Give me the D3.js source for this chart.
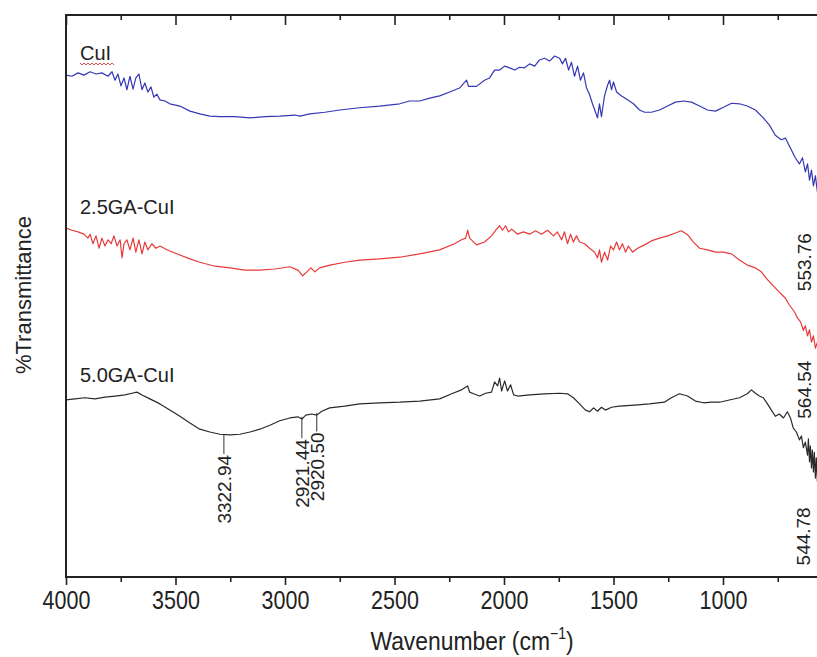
<!DOCTYPE html>
<html>
<head>
<meta charset="utf-8">
<script src="https://cdn.jsdelivr.net/npm/d3@7"></script>
<style>
  html, body { margin: 0; padding: 0; background: #fff; }
  svg { display: block; }
</style>
</head>
<body>
<svg id="chart" width="817" height="657"></svg>
<script>
// ---------------- DATA ----------------
const seriesNames = ["CuI", "2.5GA-CuI", "5.0GA-CuI"];
const xTickValues = [4000, 3500, 3000, 2500, 2000, 1500, 1000];
const xMinorTickValues = [3750, 3250, 2750, 2250, 1750, 1250, 750];

// [wavenumber (cm^-1), %Transmittance (a.u., offset)]
const cuiData = [
[4000,89.3],[3973,89.1],[3945,89.7],[3918,89.3],[3890,89.9],[3863,89.5],[3836,89.7],[3808,89.1],
[3790,89.9],[3776,88.4],[3763,89.5],[3749,87.4],[3735,88.8],[3722,86.7],[3708,89.1],[3694,86.8],
[3681,88.8],[3667,89.5],[3653,86.7],[3640,87.9],[3626,86.3],[3612,87.2],[3599,85.4],[3585,85.9],
[3571,84.9],[3548,84.7],[3526,84.2],[3480,83.8],[3434,82.9],[3389,82.4],[3343,82.0],[3297,81.9],
[3229,81.9],[3160,81.7],[3092,81.9],[3024,82.0],[2955,82.2],[2932,82.0],[2887,82.4],[2818,82.7],
[2750,83.1],[2659,83.5],[2568,83.8],[2476,84.2],[2431,84.7],[2385,84.7],[2339,85.2],[2294,85.6],
[2248,86.3],[2203,87.0],[2171,88.4],[2162,87.3],[2125,87.3],[2089,88.4],[2066,88.8],[2043,90.2],
[2020,90.2],[1997,90.9],[1974,90.6],[1951,90.2],[1929,90.7],[1906,90.6],[1883,91.3],[1860,90.9],
[1838,92.0],[1815,92.3],[1792,91.8],[1769,92.7],[1746,92.3],[1733,91.3],[1719,92.3],[1705,90.2],
[1692,91.6],[1678,89.1],[1664,90.9],[1651,88.4],[1637,89.7],[1623,87.0],[1609,85.8],[1596,84.2],
[1582,82.7],[1573,81.7],[1564,84.2],[1555,81.9],[1541,85.6],[1527,87.5],[1518,88.4],[1509,86.7],
[1500,88.1],[1486,86.3],[1463,85.6],[1436,84.9],[1409,84.2],[1381,83.1],[1358,82.7],[1327,82.7],
[1290,83.1],[1253,83.8],[1217,84.5],[1180,84.7],[1144,84.5],[1107,83.8],[1071,83.1],[1034,82.9],
[998,83.6],[961,84.3],[925,84.2],[889,83.8],[852,83.1],[816,81.7],[788,80.4],[761,78.6],
[734,77.8],[715,78.1],[697,76.7],[670,74.6],[651,73.5],[637,74.6],[624,72.1],[614,73.5],
[605,70.6],[596,72.4],[587,69.6],[578,71.4],[569,68.5]
];

const ga25Data = [
[4000,62.1],[3973,61.7],[3945,61.4],[3918,61.0],[3900,60.3],[3890,61.0],[3877,59.3],[3863,60.7],
[3849,58.5],[3836,60.3],[3822,58.9],[3808,60.0],[3794,59.3],[3781,60.7],[3767,58.9],[3753,60.0],
[3744,56.8],[3735,59.3],[3722,60.0],[3708,58.2],[3694,60.3],[3681,57.8],[3667,60.0],[3653,57.5],
[3640,59.6],[3626,58.2],[3608,59.3],[3589,58.5],[3571,58.9],[3548,58.4],[3526,58.0],[3480,57.3],
[3434,56.6],[3389,56.0],[3320,55.3],[3252,55.0],[3183,54.6],[3115,54.6],[3046,54.8],[2978,55.2],
[2941,54.6],[2919,53.6],[2900,54.3],[2882,55.0],[2864,54.3],[2841,55.0],[2795,55.5],[2727,56.0],
[2659,56.4],[2568,56.6],[2476,56.9],[2385,57.5],[2294,58.2],[2226,59.3],[2194,60.0],[2175,60.3],
[2166,61.7],[2157,60.3],[2125,59.1],[2089,59.6],[2057,60.7],[2034,61.9],[2020,62.5],[2007,61.7],
[1993,62.5],[1979,61.4],[1965,61.9],[1938,61.0],[1911,61.4],[1883,61.0],[1856,61.6],[1829,61.0],
[1801,61.7],[1774,60.7],[1756,61.4],[1737,60.0],[1724,61.4],[1710,59.3],[1696,61.0],[1683,59.6],
[1669,60.7],[1655,59.6],[1632,59.3],[1609,58.5],[1586,57.8],[1573,56.8],[1564,58.2],[1555,56.0],
[1541,57.8],[1527,56.4],[1513,58.9],[1500,58.2],[1486,59.6],[1473,58.2],[1459,59.3],[1445,57.8],
[1432,58.9],[1413,57.8],[1390,58.5],[1358,59.1],[1327,59.8],[1290,60.3],[1253,60.7],[1217,61.2],
[1190,61.6],[1162,60.9],[1135,59.6],[1107,58.5],[1071,58.2],[1034,57.8],[998,57.8],[961,57.5],
[925,56.4],[889,55.5],[852,55.0],[825,54.3],[797,52.9],[770,51.8],[743,50.7],[715,49.6],
[697,48.4],[674,47.2],[660,46.1],[646,45.4],[633,43.9],[624,44.7],[614,42.9],[605,44.0],
[596,41.8],[587,42.9],[578,40.7],[569,41.8]
];

const ga50Data = [
[4000,31.5],[3959,31.7],[3913,31.9],[3868,31.7],[3822,32.0],[3776,32.2],[3731,32.4],[3699,32.7],
[3676,32.9],[3653,32.4],[3617,31.7],[3571,30.8],[3526,29.7],[3480,28.6],[3434,27.4],[3389,26.3],
[3343,25.8],[3297,25.4],[3252,25.3],[3206,25.4],[3160,25.8],[3115,26.3],[3069,27.0],[3024,27.8],
[2978,28.3],[2941,28.5],[2923,28.1],[2905,28.8],[2878,29.0],[2855,28.8],[2832,29.5],[2796,30.1],
[2727,30.4],[2659,30.8],[2568,31.0],[2476,31.1],[2385,31.3],[2294,31.7],[2239,32.6],[2194,33.3],
[2166,34.0],[2157,32.9],[2139,32.6],[2111,32.2],[2084,32.7],[2057,32.9],[2043,34.7],[2029,34.0],
[2020,35.4],[2011,33.1],[1997,34.9],[1984,33.1],[1970,34.2],[1956,32.4],[1938,32.2],[1883,32.4],
[1815,32.6],[1746,32.7],[1710,32.6],[1683,31.9],[1655,30.8],[1628,29.7],[1609,29.4],[1591,30.1],
[1573,29.5],[1555,30.2],[1537,29.7],[1509,30.2],[1473,30.4],[1404,30.6],[1336,30.8],[1268,31.1],
[1236,31.9],[1199,32.6],[1162,32.2],[1126,31.3],[1089,31.0],[1053,31.1],[1016,31.1],[971,31.5],
[925,31.9],[889,32.6],[870,33.3],[852,32.7],[834,32.2],[816,31.9],[797,30.8],[779,29.7],
[761,28.6],[743,29.0],[724,28.3],[706,29.4],[692,28.3],[679,26.5],[665,25.8],[651,24.4],
[642,25.1],[633,23.0],[624,24.0],[614,21.7],[610,24.6],[605,20.5],[601,23.3],[596,19.4],
[592,22.6],[587,18.7],[583,22.2],[578,17.6],[574,21.2],[569,16.9]
];

// peak annotations: label, marker wavenumber, marker line from/to (a.u.)
const peakLabels = ["3322.94", "2921.44", "2920.50"];
const peakPos = [3279, 2923, 2855];
const peakLineTop = [25.3, 28.5, 29.2];
const peakLineBottom = [21.9, 24.7, 25.9];
// edge labels (no marker line)
const edgeLabels = ["553.76", "564.54", "544.78"];
const edgePos = [630, 630, 633];
const edgeTop = [61.2, 38.5, 12.4];

// ---------------- LAYOUT ----------------
const W = 817, H = 657;
const mLeft = 66, mTop = 15, mBottom = 577, mRight = 817;
const svg = d3.select("#chart");

const x = d3.scaleLinear().domain([4000, 1000]).range([mLeft, 723]);
const y = d3.scaleLinear().domain([0, 100]).range([mBottom, mTop]);

const colors = ["#3438b4", "#e8393a", "#2a2a2a"];
const datasets = [cuiData, ga25Data, ga50Data];

svg.append("defs").append("clipPath").attr("id", "plotclip")
  .append("rect").attr("x", mLeft).attr("y", mTop).attr("width", mRight - mLeft + 10).attr("height", mBottom - mTop);

const line = d3.line().x(d => x(d[0])).y(d => y(d[1]));
const g = svg.append("g").attr("clip-path", "url(#plotclip)");
datasets.forEach((data, i) => {
  g.append("path").datum(data)
    .attr("fill", "none")
    .attr("stroke", colors[i])
    .attr("stroke-width", 1.2)
    .attr("stroke-linejoin", "round")
    .attr("d", line);
});

// series labels (baseline positions in data units)
const labelY = [92.0, 64.6, 34.7];
const labelsG = svg.append("g").attr("font-family", "Liberation Sans, Arial, sans-serif").attr("font-size", 20).attr("fill", "#222");
seriesNames.forEach((n, i) => {
  labelsG.append("text").attr("x", 80).attr("y", y(labelY[i])).text(n);
});
// spell-check squiggle under "CuI"
{
  const sx0 = 80, sx1 = 114, sy = y(labelY[0]) + 3;
  let p = "M" + sx0 + "," + sy;
  for (let xx = sx0, k = 0; xx < sx1; xx += 2, k++) p += " L" + (xx + 2) + "," + (sy + (k % 2 ? 0 : 2));
  svg.append("path").attr("d", p).attr("fill", "none").attr("stroke", "#e03030").attr("stroke-width", 0.9);
}

// peak annotation markers & labels
const annG = svg.append("g").attr("font-family", "Liberation Sans, Arial, sans-serif").attr("font-size", 19).attr("fill", "#222");
peakLabels.forEach((lab, i) => {
  const px = x(peakPos[i]);
  annG.append("line").attr("x1", px).attr("x2", px)
    .attr("y1", y(peakLineTop[i])).attr("y2", y(peakLineBottom[i]))
    .attr("stroke", "#333").attr("stroke-width", 1);
  annG.append("text")
    .attr("transform", `translate(${px},${y(peakLineBottom[i]) + 1}) rotate(-90)`)
    .attr("text-anchor", "end").attr("dy", "0.36em").text(lab);
});
edgeLabels.forEach((lab, i) => {
  const px = x(edgePos[i]);
  annG.append("text")
    .attr("transform", `translate(${px},${y(edgeTop[i])}) rotate(-90)`)
    .attr("text-anchor", "end").attr("dy", "0.36em").text(lab);
});

// axes frame
const axisColor = "#222";
svg.append("line").attr("x1", mLeft).attr("x2", mLeft).attr("y1", mTop - 1).attr("y2", mBottom + 1)
  .attr("stroke", axisColor).attr("stroke-width", 2);

// bottom axis
const xAxis = d3.axisBottom(x).tickValues(xTickValues).tickSize(8).tickPadding(6).tickFormat(d3.format("d"));
const xAxisMinor = d3.axisBottom(x).tickValues(xMinorTickValues).tickSize(5).tickFormat("");
const gx = svg.append("g").attr("transform", `translate(0,${mBottom})`).call(xAxis);
const gxm = svg.append("g").attr("transform", `translate(0,${mBottom})`).call(xAxisMinor);
[gx, gxm].forEach(a => {
  a.select(".domain").remove();
  a.selectAll(".tick line").attr("stroke", axisColor).attr("stroke-width", 1.6);
});
gx.selectAll(".tick text")
  .attr("font-family", "Liberation Sans, Arial, sans-serif")
  .attr("font-size", 25).attr("fill", "#222")
  .attr("transform", "scale(0.86,1)");
svg.append("line").attr("x1", mLeft - 1).attr("x2", mRight).attr("y1", mBottom).attr("y2", mBottom)
  .attr("stroke", axisColor).attr("stroke-width", 2);

// top axis (ticks inward)
const xTop = d3.axisBottom(x).tickValues(xTickValues).tickSize(10).tickFormat("");
const xTopMinor = d3.axisBottom(x).tickValues(xMinorTickValues).tickSize(5).tickFormat("");
const gt = svg.append("g").attr("transform", `translate(0,${mTop})`).call(xTop);
const gtm = svg.append("g").attr("transform", `translate(0,${mTop})`).call(xTopMinor);
[gt, gtm].forEach(a => {
  a.select(".domain").remove();
  a.selectAll(".tick line").attr("stroke", axisColor).attr("stroke-width", 1.6);
});
svg.append("line").attr("x1", mLeft - 1).attr("x2", mRight).attr("y1", mTop).attr("y2", mTop)
  .attr("stroke", axisColor).attr("stroke-width", 2);

// axis titles
const xt = svg.append("text")
  .attr("transform", "translate(472,650) scale(0.88,1)")
  .attr("text-anchor", "middle")
  .attr("font-family", "Liberation Sans, Arial, sans-serif")
  .attr("font-size", 26).attr("fill", "#222");
xt.append("tspan").text("Wavenumber (cm");
xt.append("tspan").attr("font-size", 16).attr("dy", -11).text("−1");
xt.append("tspan").attr("dy", 11).text(")");

svg.append("text").attr("transform", "translate(23,295) rotate(-90)")
  .attr("text-anchor", "middle").attr("dy", "0.36em")
  .attr("font-family", "Liberation Sans, Arial, sans-serif").attr("font-size", 22).attr("fill", "#222")
  .text("%Transmittance");
</script>
</body>
</html>
